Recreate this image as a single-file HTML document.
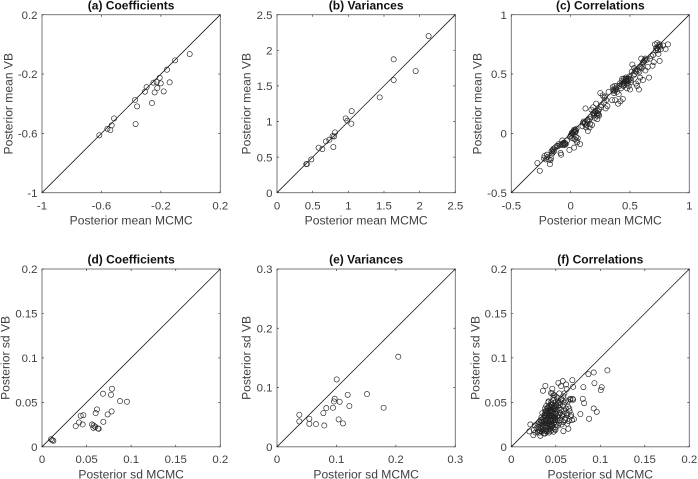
<!DOCTYPE html>
<html lang="en">
<head>
<meta charset="utf-8">
<title>Posterior comparison VB vs MCMC</title>
<style>
html,body{margin:0;padding:0;background:#fff;}
#figure{display:block;width:698px;height:479px;filter:blur(0.28px);font-family:"Liberation Sans",sans-serif;}
</style>
</head>
<body>
<svg id="figure" xmlns="http://www.w3.org/2000/svg" width="698" height="479" viewBox="0 0 698 479"></svg>
<script>
// (a) coefficients, posterior means
const coefMeanMcmc = [-.614,-.56,-.54,-.531,-.515,-.374,-.37,-.36,-.307,-.296,-.26,-.25,-.242,-.228,-.224,-.208,-.201,-.181,-.159,-.141,-.105,-.006];
const coefMeanVb   = [-.613,-.569,-.578,-.546,-.499,-.375,-.537,-.418,-.319,-.288,-.396,-.258,-.324,-.254,-.294,-.225,-.263,-.317,-.171,-.256,-.108,-.065];
// (b) variances, posterior means
const varMeanMcmc = [.411,.42,.481,.584,.636,.687,.734,.78,.8,.813,.79,.963,.986,1.042,1.047,1.44,1.636,1.636,1.944,2.126];
const varMeanVb   = [.403,.403,.468,.632,.613,.721,.744,.796,.79,.847,.641,1.044,1.011,.969,1.147,1.339,1.582,1.873,1.709,2.2];
// (c) correlations, posterior means
const corrMeanMcmc = [
-.28,-.26,-.225,-.22,-.21,-.2,-.195,-.185,-.175,-.17,
-.165,-.16,-.155,-.15,-.145,-.14,-.13,-.115,-.11,-.085,
-.08,-.075,-.07,-.065,-.06,-.05,-.045,-.04,-.03,-.01,
-.005,0,.005,.01,.015,.02,.025,.03,.035,.04,
.045,.05,.055,.06,.08,.03,.035,.02,.01,.045,
.1,.105,.11,.12,.125,.13,.14,.145,.15,.16,
.165,.17,.175,.18,.19,.195,.2,.205,.21,.215,
.22,.225,.23,.235,.24,.25,.255,.26,.27,.28,
.285,.29,.295,.3,.31,.32,.35,.355,.36,.365,
.37,.375,.38,.39,.4,.405,.41,.415,.42,.425,
.43,.435,.44,.445,.45,.455,.46,.465,.47,.475,
.48,.485,.49,.495,.5,.505,.51,.515,.52,.53,
.535,.54,.545,.55,.56,.57,.575,.58,.585,.59,
.595,.6,.61,.615,.625,.63,.64,.65,.66,.67,
.68,.69,.695,.7,.71,.72,.73,.74,.745,.75,
.755,.76,.78,.8,.82,.735,.74,.73,.75,.72,
.2,.21,.22,.23,.24,.19,.45,.46,.47,.48,
.44,.43,.5,.49,.47,.45,.38,.37,.36,.39,
.55,.56,.57,.58,.6,.61,.62,.63,.05,.04,
-.05,-.06,-.15,-.16,-.09,-.1,.12,.13,.14,.16];
const corrMeanVb = [
-.25,-.315,-.21,-.19,-.22,-.18,-.2,-.22,-.26,-.225,
-.21,-.15,-.17,-.16,-.13,-.15,-.12,-.105,-.11,-.165,
-.18,-.09,-.06,-.1,-.08,-.1,-.085,-.09,-.06,-.14,
-.03,-.02,-.01,-.04,0,.01,.02,-.12,-.05,.03,
-.03,-.06,-.075,-.04,-.09,.03,.015,-.005,.005,.02,
.06,.09,.1,.08,.21,.05,.1,.02,.11,.05,
.08,.14,.2,.07,.22,.15,.17,.13,.19,.25,
.15,.12,.17,.16,.2,.34,.22,.24,.32,.26,
.3,.31,.21,.28,.23,.35,.28,.39,.36,.34,
.4,.28,.37,.35,.25,.33,.4,.42,.27,.38,
.44,.46,.29,.4,.43,.41,.45,.47,.42,.38,
.44,.46,.4,.48,.37,.43,.45,.52,.58,.49,
.55,.5,.53,.42,.4,.44,.37,.52,.47,.56,
.63,.55,.45,.6,.62,.53,.62,.56,.47,.63,
.65,.57,.66,.6,.75,.72,.76,.67,.74,.61,
.73,.71,.74,.71,.75,.7,.73,.72,.75,.7,
.16,.18,.17,.19,.15,.17,.43,.44,.46,.42,
.42,.41,.46,.45,.44,.46,.38,.36,.37,.4,
.52,.54,.53,.56,.58,.6,.61,.63,.04,.01,
-.08,-.09,-.14,-.15,-.1,-.09,.09,.07,.11,.12];
// (d) coefficients, posterior sds
const coefSdMcmc = [.0101,.0127,.0116,.0378,.0415,.0456,.0434,.0464,.0561,.0579,.0576,.0598,.0628,.0636,.0602,.0617,.0684,.0688,.0736,.0781,.0774,.0785,.0875,.0953];
const coefSdVb   = [.0086,.0068,.0075,.0233,.0274,.0251,.0349,.0356,.0251,.024,.0214,.0225,.0206,.0203,.0379,.042,.0597,.0281,.0364,.0398,.0585,.0653,.0514,.0507];
// (e) variances, posterior sds
const varSdMcmc = [.0376,.0376,.0544,.0544,.0656,.078,.0796,.083,.0942,.0959,.097,.1004,.1054,.1037,.111,.1189,.1217,.1514,.1794,.2041];
const varSdVb   = [.054,.0428,.0473,.0388,.0383,.0568,.036,.0653,.0659,.0765,.0811,.1137,.076,.0462,.0394,.0878,.0687,.0889,.0659,.152];
// (f) correlations, posterior sds
const corrSdMcmc = [
.108,.0926,.0866,.0934,.1016,.1005,.081,.0803,.0818,.0926,
.096,.0874,.0776,.0686,.0694,.0578,.0529,.0559,.0615,.0623,
.0383,.0356,.0461,.0446,.0485,.0585,.0641,.0214,.0203,.0248,
.0326,.0379,.0253,.0262,.0271,.0283,.0294,.0297,.0304,.0311,
.0306,.0318,.0315,.0323,.0328,.0326,.0337,.0331,.0334,.0347,
.0339,.0344,.0352,.0358,.0349,.0363,.0355,.0368,.0361,.0372,
.0366,.0378,.0369,.0374,.0382,.0376,.0388,.0381,.0392,.0385,
.0379,.0387,.0396,.0391,.0384,.0402,.0393,.0398,.0406,.0395,
.0412,.0403,.0389,.0408,.0416,.0404,.0415,.0399,.0421,.0411,
.0407,.0418,.0414,.0427,.0419,.0423,.0409,.0431,.0426,.0424,
.0437,.0422,.0433,.0441,.0428,.0435,.0447,.0432,.0446,.0439,
.0452,.0436,.0443,.0451,.0444,.0457,.0449,.0463,.0442,.0455,
.0458,.0448,.0466,.0454,.0471,.0453,.0461,.0468,.0456,.0474,
.0462,.0476,.0459,.0467,.0479,.0473,.0464,.0483,.0469,.0486,
.0477,.0491,.0472,.0488,.0481,.0494,.0475,.0498,.0485,.0493,
.0503,.0487,.0511,.0496,.0507,.0489,.0515,.0501,.0492,.0522,
.0509,.0528,.0514,.0533,.0519,.0505,.0526,.0542,.0531,.0548,
.0536,.0553,.0539,.0564,.0551,.0573,.0558,.0545,.0567,.0586,
.0571,.0592,.0579,.0561,.0597,.0606,.0589,.0613,.0599,.0584,
.0628,.0608,.0621,.0637,.0615,.0644,.0631,.0652,.0635,.0668,
.0655,.0662,.0681,.0673,.0689,.0664,.0703,.0696];
const corrSdVb = [
.086,.0836,.0817,.0716,.0671,.0638,.0671,.054,.0491,.0431,
.0394,.0315,.0368,.075,.0675,.0739,.072,.0683,.0701,.0649,
.0686,.063,.0653,.0604,.0579,.0176,.0203,.0251,.0173,.0131,
.0124,.015,.019,.024,.016,.021,.026,.017,.022,.028,
.019,.025,.016,.021,.03,.018,.024,.027,.02,.028,
.033,.017,.023,.03,.038,.015,.021,.026,.032,.036,
.019,.024,.029,.035,.04,.015,.022,.027,.031,.038,
.043,.018,.025,.03,.034,.041,.046,.017,.023,.028,
.032,.036,.04,.044,.05,.02,.026,.03,.035,.039,
.043,.051,.018,.024,.029,.033,.037,.041,.046,.016,
.022,.027,.031,.035,.04,.044,.048,.02,.025,.03,
.034,.038,.042,.047,.018,.023,.028,.032,.036,.04,
.045,.05,.021,.026,.03,.034,.038,.043,.048,.055,
.06,.017,.024,.029,.033,.037,.041,.046,.052,.02,
.027,.031,.035,.039,.044,.05,.058,.022,.028,.033,
.037,.042,.047,.019,.025,.03,.034,.038,.043,.049,
.056,.024,.03,.036,.041,.046,.052,.027,.033,.038,
.044,.05,.06,.025,.03,.036,.042,.047,.053,.028,
.034,.04,.046,.054,.06,.03,.037,.043,.05,.057,
.026,.032,.038,.045,.052,.029,.036,.043,.051,.034,
.04,.054,.03,.036,.054,.053,.031,.053];

// Axis limits and tick labels
const limitsA = [-1, 0.2];
const ticksA = ["-1", "-0.6", "-0.2", "0.2"];
const limitsB = [0, 2.5];
const ticksB = ["0", "0.5", "1", "1.5", "2", "2.5"];
const limitsC = [-0.5, 1];
const ticksC = ["-0.5", "0", "0.5", "1"];
const limitsD = [0, 0.2];
const ticksD = ["0", "0.05", "0.1", "0.15", "0.2"];
const limitsE = [0, 0.3];
const ticksE = ["0", "0.1", "0.2", "0.3"];
const limitsF = [0, 0.2];
const ticksF = ["0", "0.05", "0.1", "0.15", "0.2"];

const svg = document.getElementById('figure');
const NS = 'http://www.w3.org/2000/svg';
const AXIS_COLOR = '#404040';
const TOP_ROW = {top: 14.7, bottom: 192.7, titleY: 9.5, tickY: 209.5, labelY: 224.5};
const BOTTOM_ROW = {top: 269, bottom: 446.8, titleY: 263.5, tickY: 463, labelY: 478.5};

function make(tag, attrs, parent) {
  const el = document.createElementNS(NS, tag);
  for (const k in attrs) el.setAttribute(k, attrs[k]);
  parent.appendChild(el);
  return el;
}

function drawPanel(p) {
  const row = p.row;
  const g = make('g', {}, svg);
  
  
  const sx = v => p.left + (v - p.limits[0]) / (p.limits[1] - p.limits[0]) * (p.right - p.left);
  const sy = v => row.bottom - (v - p.limits[0]) / (p.limits[1] - p.limits[0]) * (row.bottom - row.top);

  const frame = make('rect', {x: p.left, y: row.top, width: p.right - p.left, height: row.bottom - row.top, fill: '#fff', stroke: '#6a6a6a', 'stroke-width': 0.9}, g);
  
  

  p.ticks.forEach(label => {
    const v = parseFloat(label);
    const xt = make('path', {d: `M${sx(v)} ${row.bottom}v-2M${sx(v)} ${row.top}v2`, stroke: AXIS_COLOR, 'stroke-width': 0.7, fill: 'none'}, g);
    
    
    const yt = make('path', {d: `M${p.left} ${sy(v)}h2M${p.right} ${sy(v)}h-2`, stroke: AXIS_COLOR, 'stroke-width': 0.7, fill: 'none'}, g);
    
    
    const xl = make('text', {x: sx(v), y: row.tickY, 'text-anchor': 'middle', 'font-size': 11.4, fill: AXIS_COLOR}, g);
    xl.textContent = label;
    
    
    const yl = make('text', {x: p.left - 4.5, y: sy(v) + 4.2, 'text-anchor': 'end', 'font-size': 11.4, fill: AXIS_COLOR}, g);
    yl.textContent = label;
    
    
  });

  const diag = make('line', {x1: sx(p.limits[0]), y1: sy(p.limits[0]), x2: sx(p.limits[1]), y2: sy(p.limits[1]), stroke: '#111', 'stroke-width': 0.75}, g);
  
  

  const n = Math.min(p.xs.length, p.ys.length);
  for (let i = 0; i < n; i++) {
    const c = make('circle', {cx: sx(p.xs[i]), cy: sy(p.ys[i]), r: 2.6, fill: 'none', stroke: '#222', 'stroke-width': 0.65}, g);
    
    
  }

  const mid = (p.left + p.right) / 2;
  const title = make('text', {x: mid, y: row.titleY, 'text-anchor': 'middle', 'font-size': 12, 'font-weight': 'bold', fill: '#111'}, g);
  title.textContent = p.title;
  
  

  const xLab = make('text', {x: mid, y: row.labelY, 'text-anchor': 'middle', 'font-size': 12.1, fill: AXIS_COLOR}, g);
  xLab.textContent = p.xLabel;
  
  

  const yMid = (row.top + row.bottom) / 2;
  const yLab = make('text', {x: p.yLabelX, y: yMid, 'text-anchor': 'middle', 'font-size': 12.1, fill: AXIS_COLOR, transform: `rotate(-90 ${p.yLabelX} ${yMid})`}, g);
  yLab.textContent = p.yLabel;
  
  
}

drawPanel({id: 'panel-a', title: '(a) Coefficients', row: TOP_ROW, left: 42, right: 220.3, limits: limitsA, ticks: ticksA, xs: coefMeanMcmc, ys: coefMeanVb, xLabel: 'Posterior mean MCMC', yLabel: 'Posterior mean VB', yLabelX: 12.5});
drawPanel({id: 'panel-b', title: '(b) Variances', row: TOP_ROW, left: 277, right: 455.3, limits: limitsB, ticks: ticksB, xs: varMeanMcmc, ys: varMeanVb, xLabel: 'Posterior mean MCMC', yLabel: 'Posterior mean VB', yLabelX: 250.5});
drawPanel({id: 'panel-c', title: '(c) Correlations', row: TOP_ROW, left: 511.3, right: 689.3, limits: limitsC, ticks: ticksC, xs: corrMeanMcmc, ys: corrMeanVb, xLabel: 'Posterior mean MCMC', yLabel: 'Posterior mean VB', yLabelX: 481.5});
drawPanel({id: 'panel-d', title: '(d) Coefficients', row: BOTTOM_ROW, left: 42, right: 220.3, limits: limitsD, ticks: ticksD, xs: coefSdMcmc, ys: coefSdVb, xLabel: 'Posterior sd MCMC', yLabel: 'Posterior sd VB', yLabelX: 9.5});
drawPanel({id: 'panel-e', title: '(e) Variances', row: BOTTOM_ROW, left: 277, right: 455.3, limits: limitsE, ticks: ticksE, xs: varSdMcmc, ys: varSdVb, xLabel: 'Posterior sd MCMC', yLabel: 'Posterior sd VB', yLabelX: 250.5});
drawPanel({id: 'panel-f', title: '(f) Correlations', row: BOTTOM_ROW, left: 511.3, right: 689.3, limits: limitsF, ticks: ticksF, xs: corrSdMcmc, ys: corrSdVb, xLabel: 'Posterior sd MCMC', yLabel: 'Posterior sd VB', yLabelX: 479.5});
</script>
</body>
</html>
